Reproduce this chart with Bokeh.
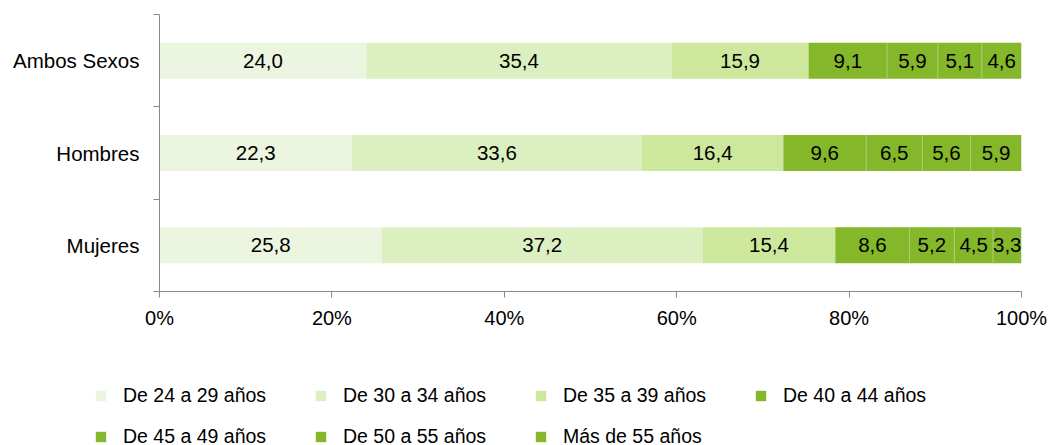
from bokeh.plotting import figure
from bokeh.layouts import column
from bokeh.models import (ColumnDataSource, Range1d, FixedTicker, NumeralTickFormatter,
                          CustomJSTickFormatter, Legend)
from bokeh.core.properties import value
from bokeh.embed import file_html
from bokeh.resources import INLINE

categories = ["Ambos Sexos", "Hombres", "Mujeres"]
groups = ["De 24 a 29 años", "De 30 a 34 años", "De 35 a 39 años", "De 40 a 44 años",
          "De 45 a 49 años", "De 50 a 55 años", "Más de 55 años"]
ambos = [24.0, 35.4, 15.9, 9.1, 5.9, 5.1, 4.6]
hombres = [22.3, 33.6, 16.4, 9.6, 6.5, 5.6, 5.9]
mujeres = [25.8, 37.2, 15.4, 8.6, 5.2, 4.5, 3.3]
x_ticks = [0, 0.2, 0.4, 0.6, 0.8, 1.0]

colors = ["#EBF5DF", "#DCEFC1", "#CDE89C", "#85B72B", "#85B72B", "#85B72B", "#85B72B"]
FONT = "Liberation Sans"

series = [ambos, hombres, mujeres]
n = len(categories)
ypos = [n - i - 0.5 for i in range(n)]
totals = [sum(s) for s in series]

p = figure(width=1051, height=331, frame_width=862, frame_height=277,
           min_border_left=159, min_border_right=30, min_border_top=14, min_border_bottom=40,
           x_range=Range1d(0, 1), y_range=Range1d(0, n),
           output_backend="svg", toolbar_location=None)
p.outline_line_color = None
p.xgrid.grid_line_color = None
p.ygrid.grid_line_color = None

bar_h = 0.39
lefts = [0.0] * n
label_x, label_y, label_t = [], [], []
sep_x, sep_y0, sep_y1 = [], [], []
sources = []
for j, g in enumerate(groups):
    vals = [series[i][j] for i in range(n)]
    fr = [vals[i] / totals[i] for i in range(n)]
    left = list(lefts)
    right = [left[i] + fr[i] for i in range(n)]
    src = ColumnDataSource(dict(y=ypos, left=left, right=right))
    sources.append(src)
    p.hbar(y="y", left="left", right="right", height=bar_h, source=src,
           fill_color=colors[j], line_color=None)
    for i in range(n):
        label_x.append((left[i] + right[i]) / 2)
        label_y.append(ypos[i])
        label_t.append(f"{vals[i]:.1f}".replace(".", ","))
        if j >= 4:
            sep_x.append(left[i])
            sep_y0.append(ypos[i] - bar_h / 2)
            sep_y1.append(ypos[i] + bar_h / 2)
    lefts = right

p.segment(x0=sep_x, x1=sep_x, y0=sep_y0, y1=sep_y1, line_color="#A9CF6E", line_width=1)

p.text(x=label_x, y=label_y, text=label_t, text_align="center", text_baseline="middle",
       text_font=value(FONT), text_font_size="20.5px", text_color="#000000")

axis_color = "#888888"
xa = p.xaxis[0]
xa.ticker = FixedTicker(ticks=x_ticks)
xa.formatter = NumeralTickFormatter(format="0%")
xa.axis_line_color = axis_color
xa.major_tick_line_color = axis_color
xa.major_tick_out = 6
xa.major_tick_in = 0
xa.minor_tick_line_color = None
xa.major_label_standoff = 9
xa.major_label_text_font = FONT
xa.major_label_text_font_size = "20px"
xa.major_label_text_color = "#000000"

ya = p.yaxis[0]
ya.ticker = FixedTicker(ticks=ypos, minor_ticks=list(range(n + 1)))
ya.formatter = CustomJSTickFormatter(args=dict(labels=categories, n=n),
                                     code="const i = n - 1 - Math.floor(tick); return labels[i] || '';")
ya.axis_line_color = axis_color
ya.major_tick_line_color = None
ya.major_tick_out = 0
ya.major_tick_in = 0
ya.minor_tick_line_color = axis_color
ya.minor_tick_out = 6
ya.minor_tick_in = 0
ya.major_label_standoff = 14
ya.major_label_text_font = FONT
ya.major_label_text_font_size = "20.5px"
ya.major_label_text_color = "#000000"

# legend figure below the chart (its bars lie outside its own ranges, only the legend shows)
p2 = figure(width=1051, height=114, frame_width=1051, frame_height=114,
            min_border=0, x_range=Range1d(0, 1), y_range=Range1d(n + 1, n + 2),
            x_axis_type=None, y_axis_type=None,
            output_backend="svg", toolbar_location=None)
p2.outline_line_color = None
p2.xgrid.grid_line_color = None
p2.ygrid.grid_line_color = None
items = []
for j, g in enumerate(groups):
    r = p2.hbar(y="y", left="left", right="right", height=bar_h, source=sources[j],
                fill_color=colors[j], line_color=None)
    items.append((g, [r]))

lg = Legend(items=items)
lg.orientation = "horizontal"
lg.ncols = 4
lg.location = (94, -3)
lg.padding = 0
lg.margin = 0
lg.spacing = 17
lg.border_line_color = None
lg.background_fill_alpha = 0
lg.glyph_width = 13
lg.glyph_height = 13
lg.label_standoff = 16
lg.label_width = 174
lg.label_height = 24
lg.label_text_font = FONT
lg.label_text_font_size = "19.5px"
lg.label_text_color = "#000000"
p2.add_layout(lg, "center")

layout = column(p, p2, spacing=0)
open("out.html", "w").write(file_html(layout, INLINE))
